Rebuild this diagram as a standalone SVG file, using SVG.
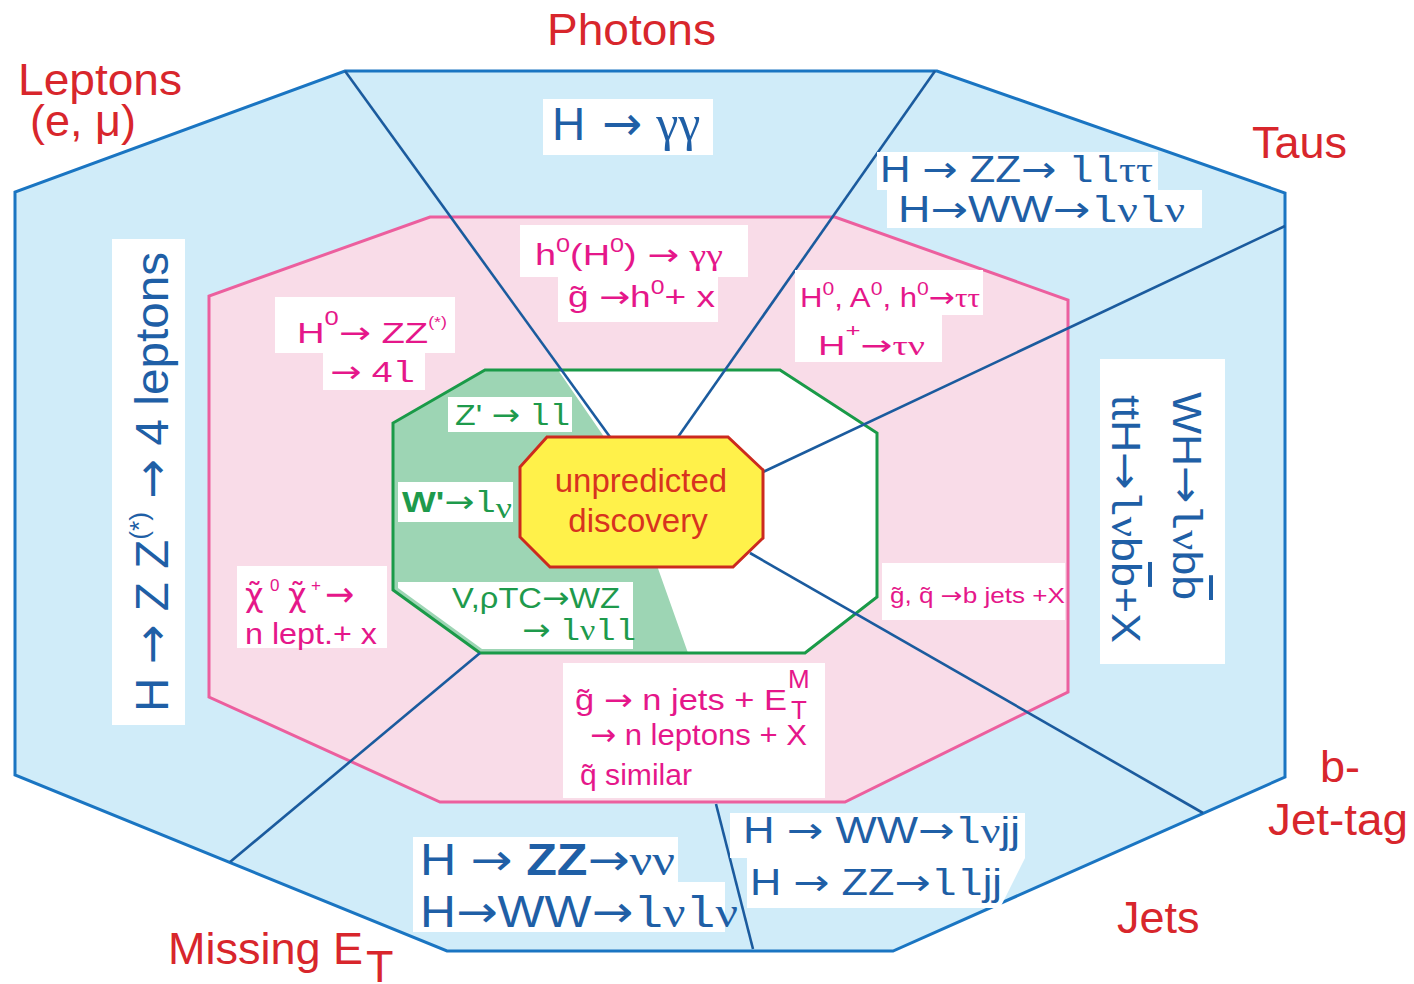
<svg xmlns="http://www.w3.org/2000/svg" width="1414" height="984" viewBox="0 0 1414 984">
<style>
text{font-family:"Liberation Sans",Arial,"DejaVu Sans",sans-serif}
.red{fill:#d8262c;font-size:45px}
.bt{fill:#1f5fa6}
.pt{fill:#e5178a}
.gt{fill:#1e9a4c}
.m{font-family:"Liberation Mono","Courier New",monospace}
.s{font-family:"Liberation Serif","Times New Roman",serif}
.ar{font-family:"DejaVu Sans",sans-serif}
.box{fill:#ffffff}
.conn{stroke:#1b5b9e;stroke-width:2.6;fill:none}
</style>
<rect width="1414" height="984" fill="#ffffff"/>
<g id="outer-region">
<polygon points="345,71 937,71 1285,193 1285,777 893,951 447,951 15,775 15,192" fill="#d0ecf9" stroke="#1a75c2" stroke-width="3"/>
</g>
<g id="pink-region">
<polygon points="430,217 835,217 1068,300 1068,692 845,802 440,802 209,697 209,296" fill="#f9dce8" stroke="#ec5f9e" stroke-width="3"/>
</g>
<g id="green-region">
<polygon points="485,370 780,370 877,433 877,597 805,653 480,653 393,590 393,423" fill="#ffffff"/>
<polygon points="485,370 558,370 620,460 655,560 688,653 480,653 393,590 393,423" fill="#9dd5b4"/>
<polygon points="398,582 633,582 633,649 482,649 398,588" fill="#ffffff"/>
<polygon points="485,370 780,370 877,433 877,597 805,653 480,653 393,590 393,423" fill="none" stroke="#1a9a48" stroke-width="3"/>
</g>
<g id="connectors">
<line class="conn" x1="345" y1="71" x2="610" y2="437"/>
<line class="conn" x1="935" y1="71" x2="678" y2="437"/>
<line class="conn" x1="1285" y1="226" x2="763" y2="472"/>
<line class="conn" x1="750" y1="553" x2="1203" y2="813"/>
<line class="conn" x1="480" y1="653" x2="230" y2="862"/>
<line class="conn" x1="716" y1="804" x2="753" y2="949"/>
</g>
<g id="unpredicted-discovery">
<polygon points="547,437 728,437 763,470 763,538 733,567 550,567 520,537 520,467" fill="#fff14a" stroke="#cc2a1e" stroke-width="3"/>
<text x="641" y="492" font-size="33" fill="#d8331e" text-anchor="middle">unpredicted</text>
<text x="638" y="532" font-size="33" fill="#d8331e" text-anchor="middle">discovery</text>
</g>
<g id="label-photons"><text class="red" x="547" y="45" textLength="169" lengthAdjust="spacingAndGlyphs">Photons</text></g>
<g id="label-leptons"><text class="red" x="18" y="95" textLength="164" lengthAdjust="spacingAndGlyphs">Leptons</text><text class="red" x="30" y="136">(e, μ)</text></g>
<g id="label-taus"><text class="red" x="1252" y="158">Taus</text></g>
<g id="label-bjettag"><text class="red" x="1320" y="782">b-</text><text class="red" x="1268" y="835" textLength="140" lengthAdjust="spacingAndGlyphs">Jet-tag</text></g>
<g id="label-jets"><text class="red" x="1117" y="933">Jets</text></g>
<g id="label-missing"><text class="red" x="168" y="964">Missing E<tspan x="366" y="982">T</tspan></text></g>

<g id="photons-channel">
<rect class="box" x="543" y="99" width="170" height="56"/>
<text class="bt" x="552" y="140" font-size="46">H <tspan class="ar" dx="4" font-size="48">→</tspan><tspan class="s" dx="14" font-size="50">γγ</tspan></text>
</g>
<g id="taus-channel">
<rect class="box" x="877" y="152" width="281" height="38"/>
<rect class="box" x="887" y="190" width="315" height="38"/>
<text class="bt" x="880" y="182" font-size="36" textLength="273" lengthAdjust="spacingAndGlyphs">H <tspan class="ar">→</tspan> ZZ<tspan class="ar">→</tspan> <tspan class="m">ll</tspan><tspan class="s">ττ</tspan></text>
<text class="bt" x="898" y="222" font-size="36" textLength="287" lengthAdjust="spacingAndGlyphs">H<tspan class="ar">→</tspan>WW<tspan class="ar">→</tspan><tspan class="m">l</tspan><tspan class="s">ν</tspan><tspan class="m">l</tspan><tspan class="s">ν</tspan></text>
</g>
<g id="leptons-channel">
<rect class="box" x="112" y="239" width="73" height="486"/>
<text class="bt" transform="translate(168,712) rotate(-90)" x="0" y="0" font-size="47" textLength="460" lengthAdjust="spacingAndGlyphs">H <tspan class="ar">→</tspan> Z Z<tspan dy="-20" font-size="26">(*)</tspan><tspan dy="20"> </tspan><tspan class="ar">→</tspan> 4 leptons</text>
</g>
<g id="bjet-channel">
<rect class="box" x="1100" y="359" width="125" height="305"/>
<text class="bt" transform="translate(1173,392) rotate(90)" x="0" y="0" font-size="40" textLength="208" lengthAdjust="spacingAndGlyphs">WH<tspan class="ar">→</tspan><tspan class="m">l</tspan><tspan class="s">ν</tspan>b<tspan text-decoration="overline">b</tspan></text>
<text class="bt" transform="translate(1112,395) rotate(90)" x="0" y="0" font-size="40" textLength="248" lengthAdjust="spacingAndGlyphs">ttH<tspan class="ar">→</tspan><tspan class="m">l</tspan><tspan class="s">ν</tspan>b<tspan text-decoration="overline">b</tspan>+X</text>
</g>
<g id="missing-channel">
<rect class="box" x="413" y="837" width="265" height="45"/>
<rect class="box" x="413" y="882" width="312" height="50"/>
<text class="bt" x="420" y="875" font-size="44" textLength="255" lengthAdjust="spacingAndGlyphs">H <tspan class="ar">→</tspan> <tspan font-weight="bold">ZZ</tspan><tspan class="ar">→</tspan><tspan class="s">νν</tspan></text>
<text class="bt" x="420" y="927" font-size="44" textLength="318" lengthAdjust="spacingAndGlyphs">H<tspan class="ar">→</tspan>WW<tspan class="ar">→</tspan><tspan class="m">l</tspan><tspan class="s">ν</tspan><tspan class="m">l</tspan><tspan class="s">ν</tspan></text>
</g>
<g id="jets-channel">
<rect class="box" x="730" y="813" width="295" height="45"/>
<polygon class="box" points="747,858 1025,858 1000,908 747,908"/>
<text class="bt" x="743" y="843" font-size="36" textLength="277" lengthAdjust="spacingAndGlyphs">H <tspan class="ar">→</tspan> WW<tspan class="ar">→</tspan><tspan class="m">l</tspan><tspan class="s">ν</tspan>jj</text>
<text class="bt" x="750" y="895" font-size="36" textLength="252" lengthAdjust="spacingAndGlyphs">H <tspan class="ar">→</tspan> ZZ<tspan class="ar">→</tspan><tspan class="m">ll</tspan>jj</text>
</g>

<g id="susy-photons">
<rect class="box" x="520" y="225" width="228" height="52"/>
<rect class="box" x="558" y="277" width="160" height="45"/>
<text class="pt" x="535" y="265" font-size="30" textLength="188" lengthAdjust="spacingAndGlyphs">h<tspan dy="-13" font-size="20">0</tspan><tspan dy="13">(H</tspan><tspan dy="-13" font-size="20">0</tspan><tspan dy="13">) </tspan><tspan class="ar">→</tspan> <tspan class="s">γγ</tspan></text>
<text class="pt" x="568" y="307" font-size="30" textLength="147" lengthAdjust="spacingAndGlyphs">g̃ <tspan class="ar">→</tspan>h<tspan dy="-13" font-size="20">0</tspan><tspan dy="13">+ x</tspan></text>
</g>
<g id="susy-taus">
<rect class="box" x="795" y="270" width="188" height="45"/>
<rect class="box" x="795" y="315" width="147" height="47"/>
<text class="pt" x="800" y="307" font-size="28" textLength="180" lengthAdjust="spacingAndGlyphs">H<tspan dy="-12" font-size="19">0</tspan><tspan dy="12">, A</tspan><tspan dy="-12" font-size="19">0</tspan><tspan dy="12">, h</tspan><tspan dy="-12" font-size="19">0</tspan><tspan dy="12" class="ar">→</tspan><tspan class="s">ττ</tspan></text>
<text class="pt" x="818" y="355" font-size="28" textLength="107" lengthAdjust="spacingAndGlyphs">H<tspan dy="-18" font-size="19">+</tspan><tspan dy="18" class="ar">→</tspan><tspan class="s">τν</tspan></text>
</g>
<g id="susy-leptons">
<rect class="box" x="275" y="297" width="180" height="56"/>
<rect class="box" x="323" y="353" width="102" height="37"/>
<text class="pt" x="297" y="343" font-size="30" textLength="150" lengthAdjust="spacingAndGlyphs">H<tspan dy="-18" font-size="20">0</tspan><tspan dy="18" class="ar">→</tspan> ZZ<tspan dy="-16" font-size="14">(*)</tspan></text>
<text class="pt" x="330" y="382" font-size="30" textLength="85" lengthAdjust="spacingAndGlyphs"><tspan class="ar">→</tspan> 4<tspan class="m">l</tspan></text>
</g>
<g id="susy-chargino">
<rect class="box" x="237" y="566" width="150" height="82"/>
<text class="pt" x="245" y="606" font-size="32"><tspan class="ar">χ̃</tspan><tspan x="270" y="591" font-size="17">0</tspan><tspan x="288" y="606" class="ar">χ̃</tspan><tspan x="311" y="591" font-size="17">+</tspan><tspan x="325" y="606" class="ar" font-size="35">→</tspan></text>
<text class="pt" x="245" y="644" font-size="30" textLength="132" lengthAdjust="spacingAndGlyphs">n lept.+ x</text>
</g>
<g id="susy-bjets">
<rect class="box" x="882" y="563" width="183" height="57"/>
<text class="pt" x="890" y="603" font-size="22" textLength="175" lengthAdjust="spacingAndGlyphs">g̃, q̃ <tspan class="ar">→</tspan>b jets +X</text>
</g>
<g id="susy-jets">
<rect class="box" x="563" y="663" width="262" height="135"/>
<text class="pt" x="575" y="710" font-size="30" textLength="212" lengthAdjust="spacingAndGlyphs">g̃ <tspan class="ar">→</tspan> n jets + E</text>
<text class="pt" x="788" y="688" font-size="26">M</text>
<text class="pt" x="791" y="719" font-size="26">T</text>
<text class="pt" x="590" y="745" font-size="30" textLength="217" lengthAdjust="spacingAndGlyphs"><tspan class="ar">→</tspan> n leptons + X</text>
<text class="pt" x="580" y="785" font-size="30" textLength="112" lengthAdjust="spacingAndGlyphs">q̃ similar</text>
</g>
<g id="exotic-zprime">
<rect class="box" x="448" y="397" width="124" height="35"/>
<text class="gt" x="455" y="425" font-size="30" textLength="115" lengthAdjust="spacingAndGlyphs">Z' <tspan class="ar">→</tspan> <tspan class="m">ll</tspan></text>
</g>
<g id="exotic-wprime">
<rect class="box" x="398" y="482" width="115" height="40"/>
<text class="gt" x="402" y="512" font-size="30" textLength="110" lengthAdjust="spacingAndGlyphs"><tspan font-weight="bold">W'</tspan><tspan class="ar">→</tspan><tspan class="m">l</tspan><tspan class="s" dy="6">ν</tspan></text>
</g>
<g id="exotic-technicolor">
<text class="gt" x="452" y="608" font-size="30" textLength="168" lengthAdjust="spacingAndGlyphs">V,ρTC<tspan class="ar">→</tspan>WZ</text>
<text class="gt" x="522" y="640" font-size="30" textLength="114" lengthAdjust="spacingAndGlyphs"><tspan class="ar">→</tspan> <tspan class="m">l</tspan><tspan class="s">ν</tspan><tspan class="m">ll</tspan></text>
</g>
</svg>
